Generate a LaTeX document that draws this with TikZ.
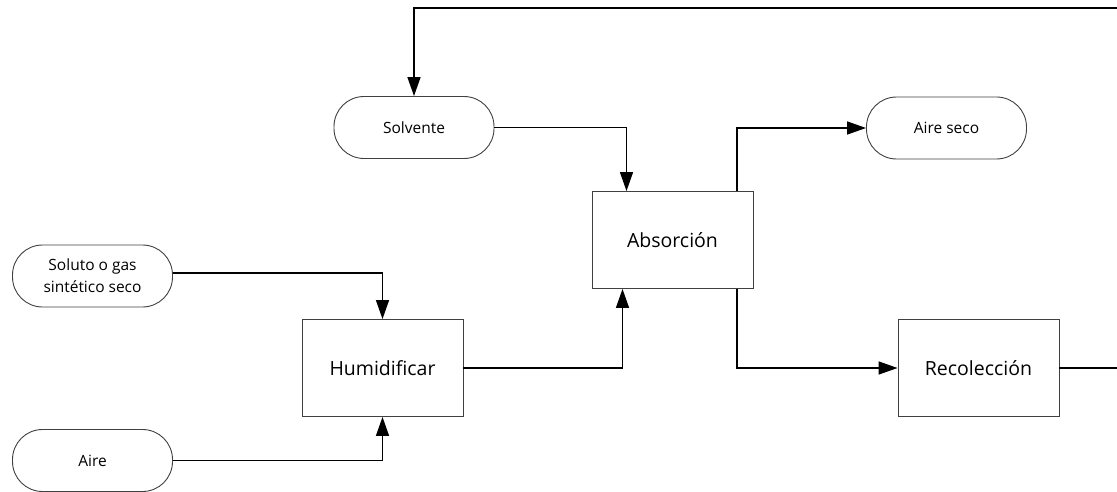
\documentclass[tikz,border=0pt]{standalone}
\usepackage{fontspec}
\setmainfont{Open Sans}
\usetikzlibrary{arrows.meta}
\begin{document}
\begin{tikzpicture}[x=1pt,y=-1pt,
  term/.style={draw=black!75,line width=0.9pt,rounded corners=30pt,minimum width=160pt,minimum height=62pt,inner sep=0pt,font=\fontsize{15.5}{22}\selectfont,align=center,fill=white},
  proc/.style={draw=black!75,line width=0.9pt,minimum width=161pt,minimum height=97pt,inner sep=0pt,font=\fontsize{19.5}{23}\selectfont,fill=white},
  conn/.style={line width=1.5pt,-{Triangle[length=19pt,width=13pt]}}]
\useasboundingbox (0,0) rectangle (1117,492);
\clip (0,0) rectangle (1117,492);
\node[term] (solv) at (414,127.5) {Solvente};
\node[term] (seco) at (946.5,128) {Aire seco};
\node[term] (solu) at (92.5,276) {Soluto o gas\\sintético seco};
\node[term] (aire) at (92.5,460.5) {Aire};
\node[proc] (abs) at (672.5,240) {Absorción};
\node[proc] (hum) at (382.5,368) {Humidificar};
\node[proc] (rec) at (978.5,368) {Recolección};
\coordinate (r1) at (1125,368);
\coordinate (r2) at (1125,8);
\coordinate (r3) at (414,8);
\draw[conn] (solv.east) -| ([xshift=-46pt]abs.north);
\draw[conn] ([xshift=64.5pt]abs.north) |- (seco.west);
\draw[conn] (solu.east|-0,273) -| (hum.north);
\draw[conn] (aire.east) -| (hum.south);
\draw[conn] (hum.east) -| ([xshift=-50pt]abs.south);
\draw[conn] ([xshift=64.5pt]abs.south) |- (rec.west);
\draw[conn] (rec.east) -- (r1) -- (r2) -- (r3) -- (solv.north);
\end{tikzpicture}
\end{document}
